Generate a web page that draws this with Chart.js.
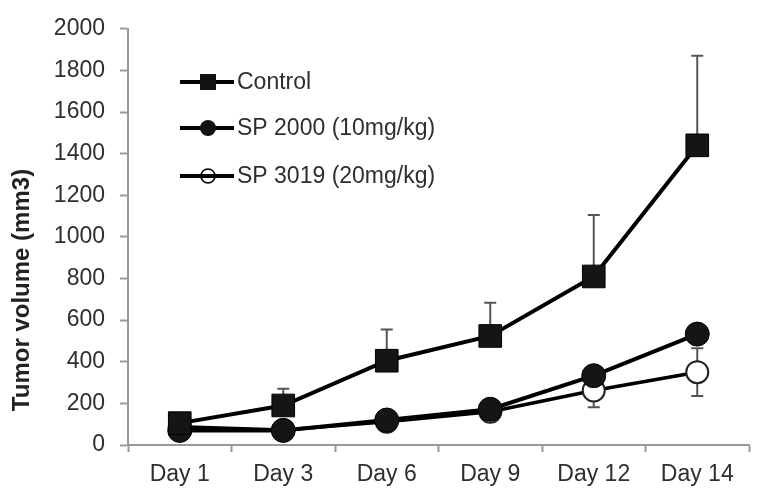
<!DOCTYPE html>
<html><head><meta charset="utf-8">
<script src="https://cdn.jsdelivr.net/npm/chart.js@4"></script>
<style>html,body{margin:0;padding:0;overflow:hidden;background:#fff}#wrap{width:766px;height:491px}</style>
</head><body><div id="wrap"><canvas id="c" width="766" height="491"></canvas></div>
<script>
const categories = ['Day 1','Day 3','Day 6','Day 9','Day 12','Day 14'];
const controlValues = [105, 190, 405, 524, 810, 1440];
const controlErrUp = [0, 80, 150, 160, 295, 430];
const sp2000Values = [70, 70, 120, 172, 333, 533];
const sp3019Values = [88, 72, 112, 160, 262, 350];
const sp3019Err = [0, 0, 0, 0, 80, 115];
const seriesNames = ['Control', 'SP 2000 (10mg/kg)', 'SP 3019 (20mg/kg)'];
const yTicks = [0,200,400,600,800,1000,1200,1400,1600,1800,2000];
const yTitle = 'Tumor volume (mm3)';

const FONT = 'Liberation Sans, Arial, sans-serif';
const TXT = '#2e2e2e';

const errorBars = {
  id: 'errorBars',
  beforeDatasetsDraw(chart) {
    const ctx = chart.ctx, x = chart.scales.x, y = chart.scales.y;
    ctx.save();
    ctx.strokeStyle = '#555';
    ctx.lineWidth = 2;
    const draw = (vals, up, down) => {
      vals.forEach((v, i) => {
        const px = x.getPixelForValue(i);
        const segs = [];
        if (up[i] > 0) segs.push(v + up[i]);
        if (down && down[i] > 0) segs.push(v - down[i]);
        segs.forEach(end => {
          const p0 = y.getPixelForValue(v), p1 = y.getPixelForValue(end);
          ctx.beginPath(); ctx.moveTo(px, p0); ctx.lineTo(px, p1);
          ctx.moveTo(px - 6, p1); ctx.lineTo(px + 6, p1); ctx.stroke();
        });
      });
    };
    draw(controlValues, controlErrUp, null);
    draw(sp3019Values, sp3019Err, sp3019Err);
    ctx.restore();
  }
};

const legendPlugin = {
  id: 'customLegend',
  afterDraw(chart) {
    const ctx = chart.ctx;
    const rows = [82, 128, 176];
    ctx.save();
    ctx.font = '23px ' + FONT;
    ctx.textBaseline = 'middle';
    rows.forEach((ry, i) => {
      ctx.strokeStyle = '#000'; ctx.lineWidth = 4;
      ctx.beginPath(); ctx.moveTo(180, ry); ctx.lineTo(234, ry); ctx.stroke();
      ctx.beginPath();
      if (i === 0) {
        ctx.fillStyle = '#111'; ctx.fillRect(200, ry - 8, 16, 16);
      } else if (i === 1) {
        ctx.fillStyle = '#111'; ctx.arc(208, ry, 8, 0, Math.PI * 2); ctx.fill();
      } else {
        ctx.fillStyle = '#fff'; ctx.lineWidth = 1.5; ctx.arc(208, ry, 7, 0, Math.PI * 2); ctx.fill(); ctx.stroke();
        ctx.beginPath(); ctx.lineWidth = 4; ctx.moveTo(180, ry); ctx.lineTo(234, ry); ctx.stroke();
      }
      ctx.fillStyle = TXT;
      ctx.fillText(seriesNames[i], 237, ry + 1);
    });
    // y-axis title
    ctx.translate(22, 290);
    ctx.rotate(-Math.PI / 2);
    ctx.font = 'bold 24px ' + FONT;
    ctx.fillStyle = '#222';
    ctx.textAlign = 'center';
    ctx.textBaseline = 'middle';
    ctx.fillText(yTitle, 0, 0);
    ctx.restore();
  }
};

new Chart(document.getElementById('c'), {
  type: 'line',
  data: {
    labels: categories,
    datasets: [
      { label: seriesNames[0], data: controlValues, borderColor: '#000', borderWidth: 4,
        pointStyle: 'rect', pointRadius: 16, pointBackgroundColor: '#151515', pointBorderColor: '#000', pointBorderWidth: 1 },
      { label: seriesNames[1], data: sp2000Values, borderColor: '#000', borderWidth: 4,
        pointStyle: 'circle', pointRadius: 12, pointBackgroundColor: '#151515', pointBorderColor: '#000', pointBorderWidth: 1 },
      { label: seriesNames[2], data: sp3019Values, borderColor: '#000', borderWidth: 3.5,
        pointStyle: 'circle', pointRadius: 11, pointBackgroundColor: '#fff', pointBorderColor: '#222', pointBorderWidth: 2 }
    ]
  },
  options: {
    responsive: false, animation: false,
    layout: { padding: { left: 0, right: 0, top: 25, bottom: 0 } },
    plugins: { legend: { display: false }, tooltip: { enabled: false } },
    scales: {
      x: {
        offset: true,
        grid: { display: true, drawOnChartArea: false, offset: true, tickLength: 7, tickColor: '#999', tickWidth: 2 },
        border: { color: '#999', width: 2 },
        ticks: { color: TXT, font: { family: FONT, size: 23 }, padding: 9 },
        afterFit(s) { s.height = 46; }
      },
      y: {
        min: 0, max: 2000,
        afterBuildTicks(s) { s.ticks = yTicks.map(v => ({ value: v })); },
        grid: { display: true, drawOnChartArea: false, tickLength: 8, tickColor: '#999', tickWidth: 2 },
        border: { color: '#999', width: 2 },
        ticks: { color: TXT, font: { family: FONT, size: 23 }, padding: 15, callback: v => String(v) },
        title: { display: false },
        afterFit(s) { s.width = 128; }
      }
    }
  },
  plugins: [errorBars, legendPlugin]
});
</script>
</body></html>
